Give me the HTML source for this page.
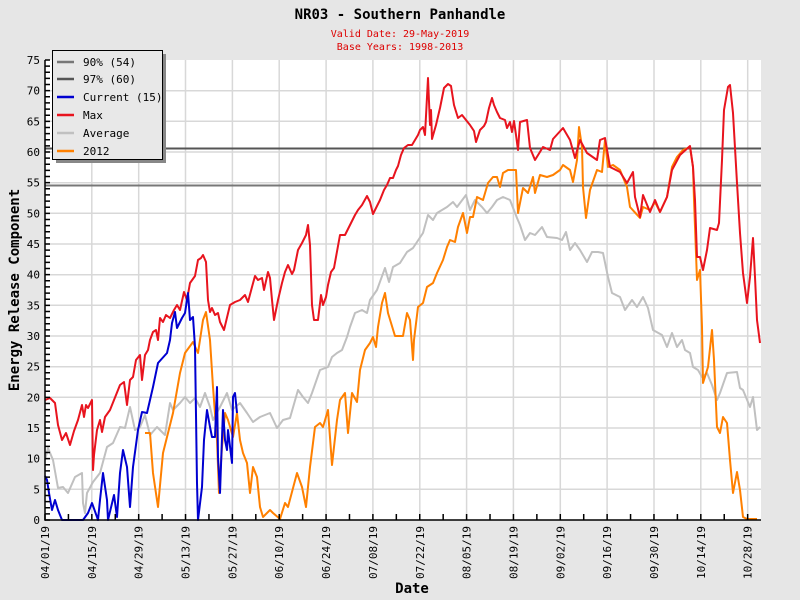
<!DOCTYPE html>
<html><head><meta charset="utf-8"><style>
html,body{margin:0;padding:0;background:#e6e6e6;}
svg{display:block;font-family:"DejaVu Sans Mono","Liberation Mono",monospace;}
</style></head><body>
<svg width="800" height="600" viewBox="0 0 800 600" xmlns="http://www.w3.org/2000/svg">
<rect width="800" height="600" fill="#e6e6e6"/>
<rect x="45" y="60" width="716" height="460" fill="#fff"/>
<g stroke="#d8d8d8" stroke-width="1.5">
<line x1="45" x2="761" y1="489.3" y2="489.3"/><line x1="45" x2="761" y1="458.7" y2="458.7"/>
<line x1="45" x2="761" y1="428" y2="428"/><line x1="45" x2="761" y1="397.3" y2="397.3"/>
<line x1="45" x2="761" y1="366.7" y2="366.7"/><line x1="45" x2="761" y1="336" y2="336"/>
<line x1="45" x2="761" y1="305.3" y2="305.3"/><line x1="45" x2="761" y1="274.7" y2="274.7"/>
<line x1="45" x2="761" y1="244" y2="244"/><line x1="45" x2="761" y1="213.3" y2="213.3"/>
<line x1="45" x2="761" y1="182.7" y2="182.7"/><line x1="45" x2="761" y1="152" y2="152"/>
<line x1="45" x2="761" y1="121.3" y2="121.3"/><line x1="45" x2="761" y1="90.7" y2="90.7"/>
<line y1="60" y2="520" x1="91.8" x2="91.8"/><line y1="60" y2="520" x1="138.7" x2="138.7"/>
<line y1="60" y2="520" x1="185.5" x2="185.5"/><line y1="60" y2="520" x1="232.4" x2="232.4"/>
<line y1="60" y2="520" x1="279.2" x2="279.2"/><line y1="60" y2="520" x1="326.1" x2="326.1"/>
<line y1="60" y2="520" x1="372.9" x2="372.9"/><line y1="60" y2="520" x1="419.8" x2="419.8"/>
<line y1="60" y2="520" x1="466.6" x2="466.6"/><line y1="60" y2="520" x1="513.4" x2="513.4"/>
<line y1="60" y2="520" x1="560.3" x2="560.3"/><line y1="60" y2="520" x1="607.1" x2="607.1"/>
<line y1="60" y2="520" x1="654" x2="654"/><line y1="60" y2="520" x1="700.8" x2="700.8"/>
<line y1="60" y2="520" x1="747.7" x2="747.7"/>
</g>
<line x1="45" y1="185.5" x2="761" y2="185.5" stroke="#777" stroke-width="2"/>
<line x1="45" y1="148.5" x2="761" y2="148.5" stroke="#555" stroke-width="2"/>
<g fill="none" stroke-width="2" stroke-linejoin="round">
<polyline stroke="#c0c0c0" points="45,460 48,448 53,460 58,488 63,487 68,493 75,477 82,473 83,503 85,513 87,493 93,482 100,473 107,447 113,443 120,427 125,428 130,407 135,430 140,427 145,415 150,435 157,427 165,435 170,403 173,410 180,403 185,397 190,403 195,398 200,407 205,393 210,407 213,420 220,407 227,393 232,410 240,403 247,413 253,422 260,417 270,413 277,428 283,420 290,418 298,390 303,397 308,403 312,393 320,370 328,367 332,357 337,353 342,350 347,337 350,327 355,313 362,310 367,313 370,300 377,290 385,268 389,282 393,267 400,263 407,252 413,248 417,242 423,233 428,215 433,220 437,213 447,207 453,202 457,207 466,195 470,210 475,200 482,207 487,213 492,207 497,200 503,197 510,200 517,218 520,225 525,240 530,233 535,235 542,227 547,237 557,238 562,240 566,232 570,250 575,243 580,250 587,262 592,252 598,252 603,253 608,277 612,293 620,297 625,310 632,300 637,307 643,297 648,308 653,330 662,335 667,347 672,333 677,347 682,340 685,350 690,353 693,367 698,370 702,377 707,373 712,385 717,400 720,393 727,373 737,372 740,388 743,390 750,407 753,397 757,430 760,427"/>
<polyline stroke="#ff8000" points="145,433 150,433 153,473 158,507 163,453 167,437 173,413 180,373 185,353 193,342 198,353 203,320 206,312 210,340 213,387 217,440 219,493 222,447 225,413 228,420 233,437 237,413 240,440 243,453 247,463 250,493 253,467 257,477 260,507 263,517 270,510 273,513 280,519 285,503 288,507 297,473 302,487 306,507 310,467 315,427 320,423 323,427 328,410 332,465 337,420 340,400 345,393 348,433 352,393 357,402 360,370 365,350 370,343 373,337 376,347 378,327 382,303 385,293 388,313 395,336 403,336 407,313 410,320 413,360 414,340 418,307 423,303 427,287 433,283 437,273 443,260 447,247 450,240 455,242 458,227 463,213 467,233 470,217 473,217 477,197 483,200 488,183 493,177 497,177 500,187 503,173 508,170 516,170 518,213 523,188 528,193 533,177 535,193 540,175 547,177 553,175 560,170 563,165 570,170 573,182 577,160 579,127 582,147 583,187 586,218 590,190 597,170 602,172 605,140 608,167 613,165 620,170 627,187 630,207 640,218 643,207 650,210 655,202 660,212 667,197 672,167 677,157 683,150 690,147 693,167 694,200 697,280 700,270 702,327 703,383 708,367 712,330 714,360 717,427 720,433 723,417 727,423 730,460 733,493 737,472 740,490 743,517 747,519 757,519"/>
<polyline stroke="#e8141e" points="45,400 50,398 55,403 58,425 62,440 66,433 70,445 74,431 78,420 82,405 84,417 86,405 88,408 92,400 93,470 94,455 97,430 100,420 102,432 105,417 110,410 114,400 118,390 120,385 124,382 127,405 130,380 133,377 136,360 140,355 142,380 145,355 148,350 150,340 153,332 156,330 158,340 160,318 163,322 166,315 170,318 174,310 177,305 180,310 184,292 187,300 190,283 195,276 198,260 201,258 203,255 206,262 208,300 210,312 212,308 215,315 218,313 220,322 224,330 230,305 235,302 240,300 245,295 248,302 252,287 255,276 258,280 262,278 264,290 268,272 270,278 272,300 274,320 278,300 282,283 285,272 288,265 292,274 294,270 298,250 302,243 306,235 308,225 310,245 312,305 314,320 318,320 321,295 323,305 326,297 328,285 331,272 334,268 340,235 345,235 350,225 355,215 358,210 362,205 367,196 370,202 373,214 377,206 380,200 384,190 387,185 390,178 393,178 396,170 398,166 401,155 404,148 408,145 412,145 415,140 418,135 420,130 423,127 425,135 428,78 430,125 431,110 432,139 436,125 440,108 444,88 448,84 451,86 454,105 458,118 462,115 466,120 470,125 474,131 476,142 480,130 484,126 486,122 489,108 492,98 494,105 497,112 500,118 505,120 507,128 510,122 512,132 514,121 516,135 518,150 520,122 527,120 530,148 535,160 543,147 550,150 553,139 563,128 570,140 575,158 580,140 587,153 597,160 600,140 605,138 610,167 620,172 627,183 633,172 635,197 640,217 643,195 650,212 655,200 660,212 667,197 672,170 680,155 690,146 693,167 695,200 697,257 700,257 703,270 707,250 710,228 717,230 719,223 722,160 724,110 728,87 730,85 733,113 737,183 740,233 743,273 747,303 750,277 753,238 755,277 757,320 760,343"/>
<polyline stroke="#0000d0" points="45,476 47,480 49,493 52,510 55,500 58,510 62,520 83,520 88,513 92,503 97,517 98,520 100,500 103,473 107,500 108,520 114,495 117,517 120,473 123,450 127,467 130,507 133,467 138,430 142,412 147,413 153,387 158,363 167,353 170,340 172,323 175,312 177,328 182,318 185,313 188,293 190,320 193,317 195,347 197,483 198,520 202,487 204,440 207,410 210,427 212,437 215,437 217,387 218,457 220,493 223,410 225,440 227,450 228,430 232,463 233,397 235,393 237,413"/>
</g>
<g stroke="#000">
<line x1="47.5" x2="47.5" y1="520.75" y2="59" stroke-width="5" stroke-dasharray="1.5 4.6333"/>
<line x1="44.25" x2="762" y1="517" y2="517" stroke-width="6" stroke-dasharray="1.5 21.922"/>
<line x1="45" x2="45" y1="60" y2="520.75" stroke-width="1.5"/>
<line x1="45" x2="761" y1="520" y2="520" stroke-width="1.5"/>
</g>
<g font-size="11" text-anchor="end">
<text x="40" y="524">0</text><text x="40" y="493.3">5</text><text x="40" y="462.7">10</text>
<text x="40" y="432">15</text><text x="40" y="401.3">20</text><text x="40" y="370.7">25</text>
<text x="40" y="340">30</text><text x="40" y="309.3">35</text><text x="40" y="278.7">40</text>
<text x="40" y="248">45</text><text x="40" y="217.3">50</text><text x="40" y="186.7">55</text>
<text x="40" y="156">60</text><text x="40" y="125.3">65</text><text x="40" y="94.7">70</text>
<text x="40" y="64">75</text>
<text transform="translate(49,526) rotate(-90)">04/01/19</text>
<text transform="translate(95.8,526) rotate(-90)">04/15/19</text>
<text transform="translate(142.7,526) rotate(-90)">04/29/19</text>
<text transform="translate(189.5,526) rotate(-90)">05/13/19</text>
<text transform="translate(236.4,526) rotate(-90)">05/27/19</text>
<text transform="translate(283.2,526) rotate(-90)">06/10/19</text>
<text transform="translate(330.1,526) rotate(-90)">06/24/19</text>
<text transform="translate(376.9,526) rotate(-90)">07/08/19</text>
<text transform="translate(423.8,526) rotate(-90)">07/22/19</text>
<text transform="translate(470.6,526) rotate(-90)">08/05/19</text>
<text transform="translate(517.4,526) rotate(-90)">08/19/19</text>
<text transform="translate(564.3,526) rotate(-90)">09/02/19</text>
<text transform="translate(611.1,526) rotate(-90)">09/16/19</text>
<text transform="translate(658,526) rotate(-90)">09/30/19</text>
<text transform="translate(704.8,526) rotate(-90)">10/14/19</text>
<text transform="translate(751.7,526) rotate(-90)">10/28/19</text>
</g>
<text x="400" y="19" text-anchor="middle" font-size="14" font-weight="bold">NR03 - Southern Panhandle</text>
<text x="400" y="37" text-anchor="middle" font-size="10" fill="#d00">Valid Date: 29-May-2019</text>
<text x="400" y="50" text-anchor="middle" font-size="10" fill="#d00">Base Years: 1998-2013</text>
<text x="412" y="593" text-anchor="middle" font-size="14" font-weight="bold">Date</text>
<text transform="translate(19,290) rotate(-90)" text-anchor="middle" font-size="14" font-weight="bold">Energy Release Component</text>
<rect x="56" y="54" width="110" height="109" fill="#888"/>
<rect x="52.5" y="50.5" width="110" height="109" fill="#e8e8e8" stroke="#000" stroke-width="1"/>
<g stroke-width="2.5">
<line x1="57" y1="62" x2="74" y2="62" stroke="#777"/>
<line x1="57" y1="79" x2="74" y2="79" stroke="#555"/>
<line x1="57" y1="97" x2="74" y2="97" stroke="#0000d0"/>
<line x1="57" y1="115" x2="74" y2="115" stroke="#e8141e"/>
<line x1="57" y1="133" x2="74" y2="133" stroke="#c0c0c0"/>
<line x1="57" y1="151" x2="74" y2="151" stroke="#ff8000"/>
</g>
<g font-size="11">
<text x="83" y="66">90% (54)</text>
<text x="83" y="83">97% (60)</text>
<text x="83" y="101">Current (15)</text>
<text x="83" y="119">Max</text>
<text x="83" y="137">Average</text>
<text x="83" y="155">2012</text>
</g>
</svg>
</body></html>
